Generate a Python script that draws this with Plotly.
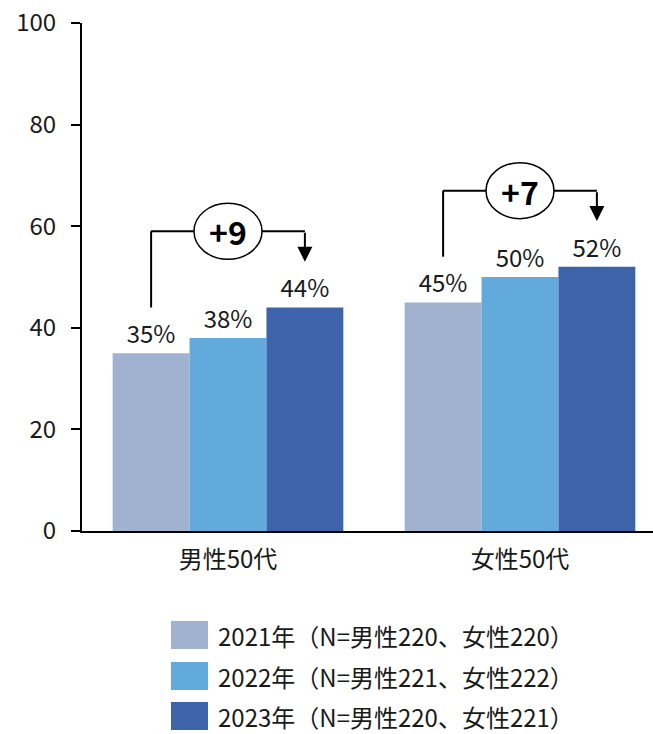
import plotly.graph_objects as go

# Survey shares (%) by age/gender group and year
categories = ["男性50代", "女性50代"]
years = ["2021年", "2022年", "2023年"]
sample_notes = ["（N=男性220、女性220）", "（N=男性221、女性222）", "（N=男性220、女性221）"]
values_2021 = [35, 45]
values_2022 = [38, 50]
values_2023 = [44, 52]
y_ticks = [0, 20, 40, 60, 80, 100]

series = [values_2021, values_2022, values_2023]
colors = ["#A0B2D0", "#62AADC", "#3D64AA"]

FONT = "Noto Sans CJK JP"
W, H = 653, 734
M_L, M_R, M_T, M_B = 82, 0, 23, 203
BARGAP = 0.21
bar_w = (1 - BARGAP) / len(series)

x_pos = list(range(len(categories)))

fig = go.Figure()
for name, vals, col in zip(years, series, colors):
    fig.add_trace(go.Bar(
        x=x_pos, y=vals, name=name,
        marker=dict(color=col, line=dict(width=0)),
        text=[f"{v}%" for v in vals], textposition="outside",
        textfont=dict(family=FONT, size=24, color="#1a1a1a"),
        cliponaxis=False, showlegend=False,
    ))

shapes = []
annotations = []

# Change brackets: from the first-year bar to the latest-year bar
for i, cx in enumerate(x_pos):
    first, last = values_2021[i], values_2023[i]
    diff = last - first
    top = max(v[i] for v in series) + 15
    x_left = cx - bar_w
    x_right = cx + bar_w
    shapes.append(dict(type="line", xref="x", yref="y", x0=x_left, x1=x_left,
                       y0=first + 9, y1=top, line=dict(color="black", width=2)))
    shapes.append(dict(type="line", xref="x", yref="y", x0=x_left, x1=x_right,
                       y0=top, y1=top, line=dict(color="black", width=2)))
    shapes.append(dict(type="circle", xref="x", yref="y",
                       xsizemode="pixel", ysizemode="pixel",
                       xanchor=cx, yanchor=top,
                       x0=-34, x1=34, y0=-28, y1=28,
                       fillcolor="white", line=dict(color="black", width=1.5)))
    annotations.append(dict(x=cx, y=top, xref="x", yref="y", text=f"+{diff}",
                            showarrow=False,
                            font=dict(family=FONT, size=32, color="black", weight="bold")))
    annotations.append(dict(x=x_right, y=last + 9, xref="x", yref="y", text="",
                            showarrow=True, axref="x", ayref="y",
                            ax=x_right, ay=top,
                            arrowhead=2, arrowsize=1.5, arrowwidth=2,
                            arrowcolor="black", standoff=0, startstandoff=0))

# Custom legend below the plot
plot_h = H - M_T - M_B
plot_w = W - M_L - M_R
legend_rows_px = [635, 676, 716]
for name, note, col, row in zip(years, sample_notes, colors, legend_rows_px):
    yc = (H - M_B - row) / plot_h
    half = 14 / plot_h
    shapes.append(dict(type="rect", xref="paper", yref="paper",
                       x0=(171 - M_L) / plot_w, x1=(208 - M_L) / plot_w,
                       y0=yc - half, y1=yc + half,
                       fillcolor=col, line=dict(width=0)))
    annotations.append(dict(x=(217 - M_L) / plot_w, y=yc, xref="paper", yref="paper",
                            xanchor="left", yanchor="middle", showarrow=False,
                            borderpad=0,
                            text=name + note,
                            font=dict(family=FONT, size=24, color="#1a1a1a")))

fig.update_layout(
    width=W, height=H,
    margin=dict(l=M_L, r=M_R, t=M_T, b=M_B, pad=0),
    paper_bgcolor="white", plot_bgcolor="white",
    barmode="group", bargap=BARGAP, bargroupgap=0,
    font=dict(family=FONT, size=24, color="#1a1a1a"),
    shapes=shapes, annotations=annotations,
    showlegend=False,
    xaxis=dict(range=[-0.5, -0.5 + plot_w / 292], tickvals=x_pos, ticktext=categories,
               showline=True, linecolor="black", linewidth=2,
               ticks="", showgrid=False, zeroline=False,
               tickfont=dict(family=FONT, size=24, color="#1a1a1a"),
               ticklabelstandoff=6),
    yaxis=dict(range=[0, 100], tickvals=y_ticks,
               showline=True, linecolor="black", linewidth=2,
               ticks="outside", ticklen=9, tickwidth=2, tickcolor="black",
               showgrid=False, zeroline=False,
               tickfont=dict(family=FONT, size=24, color="#1a1a1a"),
               ticklabelstandoff=10),
)

fig.write_html("out.html")
